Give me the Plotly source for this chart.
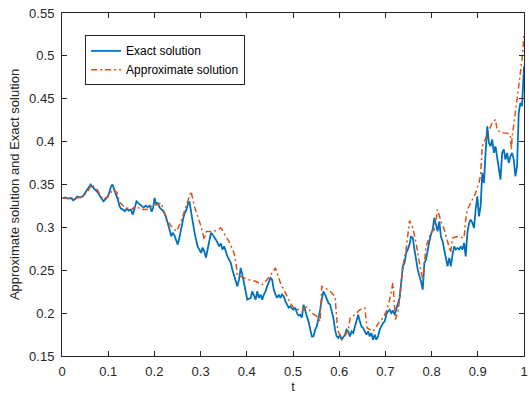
import plotly.graph_objects as go

# ---------------- data ----------------
t_exact = [0.001, 0.007, 0.0135, 0.020, 0.0243, 0.0286, 0.0329, 0.0393, 0.0457, 0.0501,
           0.0544, 0.0587, 0.0619, 0.0651, 0.0694, 0.0737, 0.0780, 0.0823, 0.0866, 0.0898,
           0.0931, 0.0974, 0.1017, 0.1060, 0.1092, 0.1124, 0.1167, 0.1210, 0.1242, 0.1274,
           0.1317, 0.1360, 0.1403, 0.1446, 0.1489, 0.1532, 0.1565, 0.1612, 0.1640, 0.1683,
           0.1726, 0.1769, 0.1812, 0.1855, 0.1898, 0.1941, 0.1973, 0.2005, 0.2037, 0.2070,
           0.2113, 0.2156, 0.2199, 0.2242, 0.2285, 0.2328, 0.2364, 0.2398, 0.2435, 0.2472,
           0.2506, 0.2542, 0.2585, 0.2628, 0.2661, 0.2693, 0.2721, 0.2757, 0.2794, 0.2828,
           0.2865, 0.2901, 0.2936, 0.2972, 0.3009, 0.3043, 0.3080, 0.3116, 0.3151, 0.3187,
           0.3224, 0.3258, 0.3295, 0.3331, 0.3366, 0.3402, 0.3439, 0.3473, 0.3510, 0.3546,
           0.3580, 0.3617, 0.3654, 0.3688, 0.3724, 0.3761, 0.3795, 0.3832, 0.3868, 0.3903,
           0.3939, 0.3976, 0.4010, 0.4047, 0.4083, 0.4118, 0.4154, 0.4191, 0.4225, 0.4262,
           0.4298, 0.4333, 0.4369, 0.4406, 0.4440, 0.4477, 0.4513, 0.4548, 0.4584, 0.4621,
           0.4655, 0.4692, 0.4728, 0.4762, 0.4799, 0.4836, 0.4870, 0.4906, 0.4943, 0.4977,
           0.5014, 0.5050, 0.5085, 0.5121, 0.5158, 0.5192, 0.5229, 0.5265, 0.5300, 0.5336,
           0.5373, 0.5407, 0.5444, 0.5480, 0.5515, 0.5551, 0.5588, 0.5622, 0.5659, 0.5695,
           0.5730, 0.5766, 0.5803, 0.5837, 0.5874, 0.5910, 0.5945, 0.5981, 0.6018, 0.6052,
           0.6089, 0.6125, 0.6159, 0.6196, 0.6232, 0.6267, 0.6303, 0.6340, 0.6374, 0.6411,
           0.6447, 0.6482, 0.6518, 0.6555, 0.6589, 0.6626, 0.6662, 0.6697, 0.6733, 0.6770,
           0.6804, 0.6841, 0.6877, 0.6912, 0.6948, 0.6985, 0.7019, 0.7056, 0.7092, 0.7127,
           0.7163, 0.7200, 0.7234, 0.7271, 0.7307, 0.7342, 0.7378, 0.7415, 0.7449, 0.7485,
           0.7522, 0.7556, 0.7593, 0.7629, 0.7664, 0.7700, 0.7737, 0.7771, 0.7808, 0.7844,
           0.7879, 0.7915, 0.7952, 0.7986, 0.8023, 0.8059, 0.8094, 0.8130, 0.8167, 0.8201,
           0.8238, 0.8274, 0.8309, 0.8345, 0.8382, 0.8416, 0.8453, 0.8489, 0.8524, 0.8560,
           0.8597, 0.8631, 0.8667, 0.8704, 0.8738, 0.8775, 0.8811, 0.8846, 0.8882, 0.8919,
           0.8953, 0.8990, 0.9026, 0.9061, 0.9097, 0.9134, 0.9168, 0.9205, 0.9241, 0.9276,
           0.9312, 0.9349, 0.9383, 0.9420, 0.9456, 0.9491, 0.9527, 0.9564, 0.9598, 0.9635,
           0.9671, 0.9706, 0.9742, 0.9779, 0.9813, 0.9850, 0.9886, 0.9921, 0.9957, 0.9978,
           1.0]

exact_solution = [0.3339, 0.3348, 0.3336, 0.3342, 0.3316, 0.3330, 0.3359, 0.3348, 0.3365, 0.3406,
                  0.3429, 0.3476, 0.3499, 0.3476, 0.3452, 0.3429, 0.3406, 0.3363, 0.3336, 0.3304,
                  0.3324, 0.3347, 0.3394, 0.3476, 0.3499, 0.3452, 0.3406, 0.3324, 0.3254, 0.3219,
                  0.3207, 0.3188, 0.3219, 0.3196, 0.3207, 0.3149, 0.3207, 0.3304, 0.3289, 0.3266,
                  0.3242, 0.3231, 0.3254, 0.3237, 0.3254, 0.3184, 0.3231, 0.3344, 0.3266, 0.3289,
                  0.3231, 0.3207, 0.3184, 0.3137, 0.3067, 0.2974, 0.2896, 0.2939, 0.2904, 0.2857,
                  0.2799, 0.2881, 0.3021, 0.3114, 0.3172, 0.3207, 0.3266, 0.3304, 0.3184, 0.3056,
                  0.2951, 0.2857, 0.2779, 0.2741, 0.2702, 0.2764, 0.2717, 0.2647, 0.2741, 0.2857,
                  0.2935, 0.2916, 0.2892, 0.2857, 0.2822, 0.2779, 0.2811, 0.2741, 0.2779, 0.2706,
                  0.2662, 0.2624, 0.2585, 0.2507, 0.2437, 0.2352, 0.2312, 0.2390, 0.2527, 0.2449,
                  0.2332, 0.2254, 0.2157, 0.2169, 0.2177, 0.2254, 0.2196, 0.2157, 0.2254, 0.2177,
                  0.2216, 0.2157, 0.2216, 0.2254, 0.2312, 0.2371, 0.2410, 0.2390, 0.2274, 0.2216,
                  0.2177, 0.2216, 0.2177, 0.2216, 0.2196, 0.2137, 0.2099, 0.2064, 0.2079, 0.2052,
                  0.2041, 0.2064, 0.2002, 0.1971, 0.1982, 0.1947, 0.2099, 0.2017, 0.1962, 0.1904,
                  0.1807, 0.1729, 0.1729, 0.1807, 0.1845, 0.1924, 0.2040, 0.2157, 0.2254, 0.2216,
                  0.2177, 0.2119, 0.2099, 0.2020, 0.1943, 0.1807, 0.1729, 0.1710, 0.1749, 0.1690,
                  0.1729, 0.1749, 0.1807, 0.1787, 0.1729, 0.1787, 0.1768, 0.1845, 0.1924, 0.1982,
                  0.1904, 0.1845, 0.1827, 0.1787, 0.1749, 0.1787, 0.1729, 0.1768, 0.1690, 0.1749,
                  0.1690, 0.1729, 0.1807, 0.1845, 0.1884, 0.1904, 0.1982, 0.2020, 0.2040, 0.2002,
                  0.2029, 0.1982, 0.2040, 0.2118, 0.2177, 0.2352, 0.2546, 0.2585, 0.2702, 0.2741,
                  0.2799, 0.2896, 0.2877, 0.2741, 0.2604, 0.2507, 0.2429, 0.2371, 0.2274, 0.2585,
                  0.2624, 0.2741, 0.2838, 0.2916, 0.2974, 0.3110, 0.3013, 0.2954, 0.3071, 0.2896,
                  0.2838, 0.2741, 0.2682, 0.2546, 0.2644, 0.2546, 0.2682, 0.2779, 0.2741, 0.2760,
                  0.2741, 0.2779, 0.2741, 0.2819, 0.2662, 0.2935, 0.3052, 0.3091, 0.3052, 0.2994,
                  0.3207, 0.3363, 0.3129, 0.3246, 0.3636, 0.3519, 0.3869, 0.4180, 0.3986, 0.3946,
                  0.4024, 0.3869, 0.3946, 0.3791, 0.3674, 0.3558, 0.3869, 0.3908, 0.3791, 0.3869,
                  0.3752, 0.3830, 0.3869, 0.3791, 0.3596, 0.3713, 0.4336, 0.4452, 0.4413, 0.4646,
                  0.4880]

t_approx = [0.001, 0.0286, 0.0436, 0.0544, 0.0640, 0.0759, 0.0888, 0.0995, 0.1103, 0.1188,
            0.1253, 0.1361, 0.1511, 0.1597, 0.1704, 0.1833, 0.1941, 0.2048, 0.2149, 0.2257,
            0.2364, 0.2478, 0.2579, 0.2686, 0.2794, 0.2865, 0.2936, 0.3009, 0.3080, 0.3123,
            0.3295, 0.3381, 0.3439, 0.3546, 0.3617, 0.3724, 0.3761, 0.3795, 0.3868, 0.3939,
            0.4047, 0.4191, 0.4333, 0.4440, 0.4548, 0.4621, 0.4728, 0.4799, 0.4870, 0.4943,
            0.5014, 0.5085, 0.5192, 0.5300, 0.5407, 0.5515, 0.5588, 0.5622, 0.5695, 0.5803,
            0.5910, 0.5945, 0.5966, 0.6052, 0.6132, 0.6196, 0.6239, 0.6340, 0.6447, 0.6555,
            0.6589, 0.6604, 0.6733, 0.6804, 0.6877, 0.6948, 0.7019, 0.7092, 0.7127, 0.7163,
            0.7217, 0.7271, 0.7307, 0.7378, 0.7449, 0.7496, 0.7522, 0.7593, 0.7664, 0.7737,
            0.7808, 0.7879, 0.7986, 0.8059, 0.8130, 0.8201, 0.8274, 0.8345, 0.8410, 0.8453,
            0.8560, 0.8704, 0.8738, 0.8775, 0.8846, 0.8953, 0.9026, 0.9061, 0.9097, 0.9205,
            0.9312, 0.9383, 0.9420, 0.9564, 0.9671, 0.9706, 0.9727, 0.9742, 0.9813, 0.9886,
            0.9957, 1.0]

approximate_solution = [0.3342, 0.3336, 0.3359, 0.3406, 0.3499, 0.3441, 0.3324, 0.3359, 0.3441, 0.3406,
                        0.3289, 0.3231, 0.3207, 0.3254, 0.3207, 0.3207, 0.3246, 0.3266, 0.3285, 0.3091,
                        0.3013, 0.2954, 0.3071, 0.3246, 0.3421, 0.3246, 0.3129, 0.3013, 0.2857, 0.2951,
                        0.2954, 0.2974, 0.2994, 0.2896, 0.2834, 0.2702, 0.2600, 0.2449, 0.2429, 0.2410,
                        0.2390, 0.2371, 0.2332, 0.2390, 0.2469, 0.2527, 0.2352, 0.2274, 0.2196, 0.2118,
                        0.2060, 0.2041, 0.2041, 0.2072, 0.2002, 0.1962, 0.1904, 0.2312, 0.2293, 0.2254,
                        0.2196, 0.1962, 0.1807, 0.1690, 0.1737, 0.1807, 0.1947, 0.1982, 0.2040, 0.2060,
                        0.1924, 0.1827, 0.1787, 0.1845, 0.1904, 0.1943, 0.2020, 0.2157, 0.2274, 0.2352,
                        0.1924, 0.2020, 0.2157, 0.2546, 0.2741, 0.2997, 0.3079, 0.2994, 0.2819, 0.2585,
                        0.2390, 0.2779, 0.2939, 0.2974, 0.3207, 0.3071, 0.2974, 0.2838, 0.2705, 0.2877,
                        0.2892, 0.2877, 0.3091, 0.3207, 0.3285, 0.3402, 0.3519, 0.3616, 0.3946, 0.4083,
                        0.4219, 0.4258, 0.4129, 0.4102, 0.4094, 0.4059, 0.3907, 0.4047, 0.4316, 0.4646,
                        0.4958, 0.5238]

x_tick_values = [0, 0.1, 0.2, 0.3, 0.4, 0.5, 0.6, 0.7, 0.8, 0.9, 1]
x_tick_labels = ["0", "0.1", "0.2", "0.3", "0.4", "0.5", "0.6", "0.7", "0.8", "0.9", "1"]
y_tick_values = [0.15, 0.2, 0.25, 0.3, 0.35, 0.4, 0.45, 0.5, 0.55]
y_tick_labels = ["0.15", "0.2", "0.25", "0.3", "0.35", "0.4", "0.45", "0.5", "0.55"]

# ---------------- figure ----------------
FONT = "Liberation Sans, Arial, Helvetica, sans-serif"
AXIS_COLOR = "#262626"

fig = go.Figure()
fig.add_trace(go.Scatter(
    x=t_exact, y=exact_solution, mode="lines", name="Exact solution",
    line=dict(color="#0072BD", width=1.8)))
fig.add_trace(go.Scatter(
    x=t_approx, y=approximate_solution, mode="lines", name="Approximate solution",
    line=dict(color="#D95319", width=1.5, dash="6px,3px,2px,3px")))

axis_common = dict(
    showgrid=False, zeroline=False, showline=True, linecolor=AXIS_COLOR, linewidth=1,
    mirror="ticks", ticks="inside", ticklen=5, tickcolor=AXIS_COLOR, tickwidth=1,
    tickfont=dict(family=FONT, size=13, color=AXIS_COLOR), automargin=False,
    ticklabeloverflow="allow",
)

fig.update_layout(
    width=529, height=401, autosize=False,
    margin=dict(l=62, r=5, t=13, b=45),
    paper_bgcolor="white", plot_bgcolor="white",
    font=dict(family=FONT, size=13, color=AXIS_COLOR),
    xaxis=dict(range=[0, 1], tickvals=x_tick_values, ticktext=x_tick_labels,
               title=dict(text="t", font=dict(family=FONT, size=13, color=AXIS_COLOR), standoff=4),
               ticklabelstandoff=3,
               **axis_common),
    yaxis=dict(range=[0.15, 0.55], tickvals=y_tick_values, ticktext=y_tick_labels,
               title=dict(text="Approximate solution and Exact solution",
                          font=dict(family=FONT, size=13, color=AXIS_COLOR), standoff=6),
               ticklabelstandoff=4,
               **axis_common),
    legend=dict(x=0.05, y=0.935, xanchor="left", yanchor="top",
                bgcolor="white", bordercolor=AXIS_COLOR, borderwidth=1,
                font=dict(family=FONT, size=12, color="black"), tracegroupgap=0),
    showlegend=True,
)

fig.write_html("out.html", config={"displayModeBar": False},
               post_script="document.body.style.margin='0';document.body.style.padding='0';")
